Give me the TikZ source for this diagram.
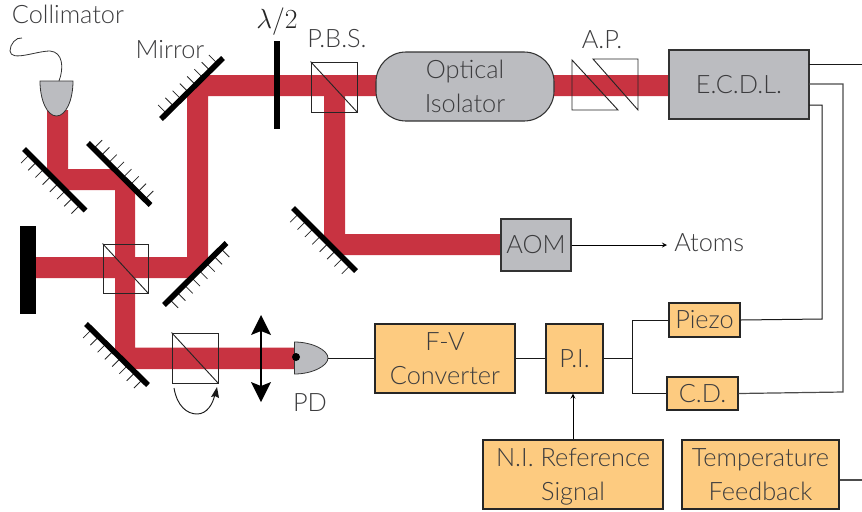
\documentclass[tikz,border=0pt]{standalone}
\usepackage{fontspec}
\setmainfont{Lato Light}
\usetikzlibrary{calc,arrows}
\definecolor{beamred}{RGB}{200,51,65}
\definecolor{boxgrey}{RGB}{187,188,192}
\definecolor{boxorange}{RGB}{253,203,128}
\definecolor{textgrey}{RGB}{60,60,62}
\tikzstyle{beam} = [fill=beamred]
\tikzstyle{mirrorbar} = [line width=4.2pt,black]
\tikzstyle{hatch} = [line width=0.6pt,black!85]
\tikzstyle{cube} = [line width=0.7pt,draw=black!85]
\tikzstyle{wire} = [line width=0.75pt,black!90]
\tikzstyle{fadedwire} = [line width=0.9pt,black!70]
\tikzstyle{arrow} = [line width=0.7pt,->,>=stealth]
\tikzstyle{lbl} = [inner sep=0pt,text=textgrey,font=\fontsize{19}{25}\selectfont,align=center]
\tikzstyle{greybox} = [lbl,draw=black!80,line width=0.8pt,fill=boxgrey]
\tikzstyle{orangebox} = [lbl,draw=black!85,line width=0.8pt,fill=boxorange]
\newcommand{\drawmirror}[5]{%
  \coordinate (#1a) at (#2);
  \coordinate (#1b) at (#3);
  \foreach \t in {0.09,0.207,0.324,0.441,0.559,0.676,0.793,0.91}
    \draw [hatch] ($(#1a)!\t!(#1b)$) -- ++(#4,#5);
  \draw [mirrorbar] (#1a) -- (#1b);
}
\begin{document}
\begin{tikzpicture}[x=0.75pt,y=0.75pt,yscale=-1,xscale=1]
\useasboundingbox (0,0) rectangle (862,511);

%Beams
\fill [beam] (47,110) -- (68,110) -- (68,169) -- (114,169) -- (135,190) -- (135,347.5) -- (295,347.5) -- (295,369) -- (131,369) -- (115,353) -- (115,190) -- (65,190) -- (47,172) -- cycle ;
\fill [beam] (36,257) -- (187,257) -- (187,94) -- (206,75) -- (670,75) -- (670,96) -- (208,96) -- (208,261.5) -- (191.5,278) -- (36,278) -- cycle ;
\fill [beam] (324,90) -- (345,90) -- (345,234) -- (501,234) -- (501,255) -- (340,255) -- (324,239) -- cycle ;

%Mirrors
\drawmirror{colm}{24,149}{85.5,210.5}{-8.5}{8.5}
\drawmirror{foldm}{88,143}{150.5,205}{8.5}{-8.5}
\drawmirror{topm}{161,119}{223,58}{-8.5}{-8.5}
\drawmirror{armm}{164,305}{226.5,243}{8.5}{8.5}
\drawmirror{lowm}{86,324}{148,385}{-8.5}{8.5}
\drawmirror{aomm}{293,208}{356,271}{-8.5}{8.5}

%Beam dump and half wave plate
\fill [black] (20,226) rectangle (36,314);
\fill [black] (274,41) rectangle (279.5,129);

%Cubes
\node (bsA) [cube,draw,minimum width=33.75pt,minimum height=36.75pt,inner sep=0pt] at (125.5,268.5) {};
\draw [cube] (bsA.north west) -- (bsA.south east);
\node (bsB) [cube,draw,minimum width=34.5pt,minimum height=37.5pt,inner sep=0pt] at (195,358) {};
\draw [cube] (bsB.north west) -- (bsB.south east);
\node (pbs) [cube,draw,minimum width=34.5pt,minimum height=37.5pt,inner sep=0pt] at (334,87) {};
\draw [cube] (pbs.north west) -- (pbs.south east);

%Anamorphic prisms
\draw [cube] (572,60) -- (572,110) -- (618,110) -- cycle ;
\draw [cube] (593,59) -- (638,59) -- (638,110) -- cycle ;

%Collimator and fibre
\draw [line width=0.6pt,draw=black!80,fill=boxgrey] (40,81) -- (73,81) .. controls (73,100) and (66,116) .. (56.5,116) .. controls (47,116) and (40,100) .. (40,81) -- cycle ;
\draw [line width=0.6pt,black!80] (59,81) .. controls (64,68) and (63,52) .. (50,51) .. controls (36,51) and (11,62) .. (10,51) .. controls (10,44) and (16,37) .. (22,38) ;

%Photodiode
\draw [line width=0.6pt,draw=black!80,fill=boxgrey] (294.5,342) .. controls (312,342) and (328,350) .. (328,358) .. controls (328,366) and (312,374) .. (294.5,374) -- cycle ;
\coordinate (pdtip) at (328,358);
\fill [black] (296,357) circle [radius=4];

%Lens
\draw [line width=1.6pt] (261,325) -- (261,392);
\fill [black] (261,315) -- (271,335) -- (261,331) -- (251,335) -- cycle ;
\fill [black] (261,402) -- (271,382) -- (261,386) -- (251,382) -- cycle ;

%Rotation arrow
\draw [line width=0.7pt,black!90] (174,388) .. controls (177,406) and (187,414) .. (197,414) .. controls (207,414) and (213,404) .. (215,394) ;
\fill [black!90] (217,387) -- (219,398) -- (215,396) -- (211,397) -- cycle ;

% Text Node
\node (collimator) [lbl] at (68,14) {Collimator};
\node (mirror) [lbl] at (170,50) {Mirror};
\node (waveplate) [inner sep=0pt,text=black!85,font=\fontsize{20.5}{24}\selectfont] at (277,22) {$\lambda/2$};
\node (pbslabel) [lbl] at (337,39) {P.B.S.};
\node (aplabel) [lbl] at (602,40) {A.P.};
\node (pdlabel) [lbl] at (310,403) {PD};
\node (atoms) [lbl,anchor=west] at (674,243) {Atoms};

%Boxes
\node (isolator) [greybox,rounded corners=22.5pt,minimum width=133.5pt,minimum height=51.75pt] at (465,86.5) {Optical\\Isolator};
\node (ecdl) [greybox,minimum width=105pt,minimum height=51.75pt] at (739,84.5) {E.C.D.L.};
\node (aom) [greybox,minimum width=52.5pt,minimum height=39pt] at (536,245) {AOM};
\node (fv) [orangebox,minimum width=105pt,minimum height=51.75pt] at (445,358.5) {F-V\\Converter};
\node (pi) [orangebox,minimum width=42.75pt,minimum height=51.75pt] at (574.5,358.5) {P.I.};
\node (piezo) [orangebox,minimum width=53.25pt,minimum height=25.5pt] at (704.5,320) {Piezo};
\node (cd) [orangebox,minimum width=53.25pt,minimum height=24.75pt] at (702.5,393.5) {C.D.};
\node (niref) [orangebox,minimum width=135pt,minimum height=51.75pt] at (573,474.5) {\rule{0pt}{17pt}N.I. Reference\\Signal};
\node (tempfb) [orangebox,minimum width=117.75pt,minimum height=51.75pt] at (760.5,474.5) {Temperature\\Feedback};

%Connectors
\coordinate (ecdlA) at (809,64);
\coordinate (ecdlB) at (809,84);
\coordinate (ecdlC) at (809,105);
\coordinate (edgeA) at (862,64);
\coordinate (edgeB) at (862,480);
\coordinate (junction) at (632,358.5);
\draw [wire] (ecdlA) -- (edgeA);
\draw [fadedwire] (ecdlB) -- (843,84) -- (843,392) -- (cd.east);
\draw [wire] (ecdlC) -- (822,105) -- (822,319) -- (piezo.east);
\draw [fadedwire] (tempfb.east |- edgeB) -- (edgeB);
\draw [wire] (pdtip) -- (fv.west |- pdtip);
\draw [wire] (fv.east) -- (pi.west);
\draw [wire] (pi.east) -- (junction);
\draw [wire] (piezo.west) -| (junction);
\draw [wire] (cd.west) -| (junction);
\draw [arrow] (niref.north) -- (niref.north |- pi.south);
\draw [arrow] (aom.east) -- (667,245);

\end{tikzpicture}
\end{document}
